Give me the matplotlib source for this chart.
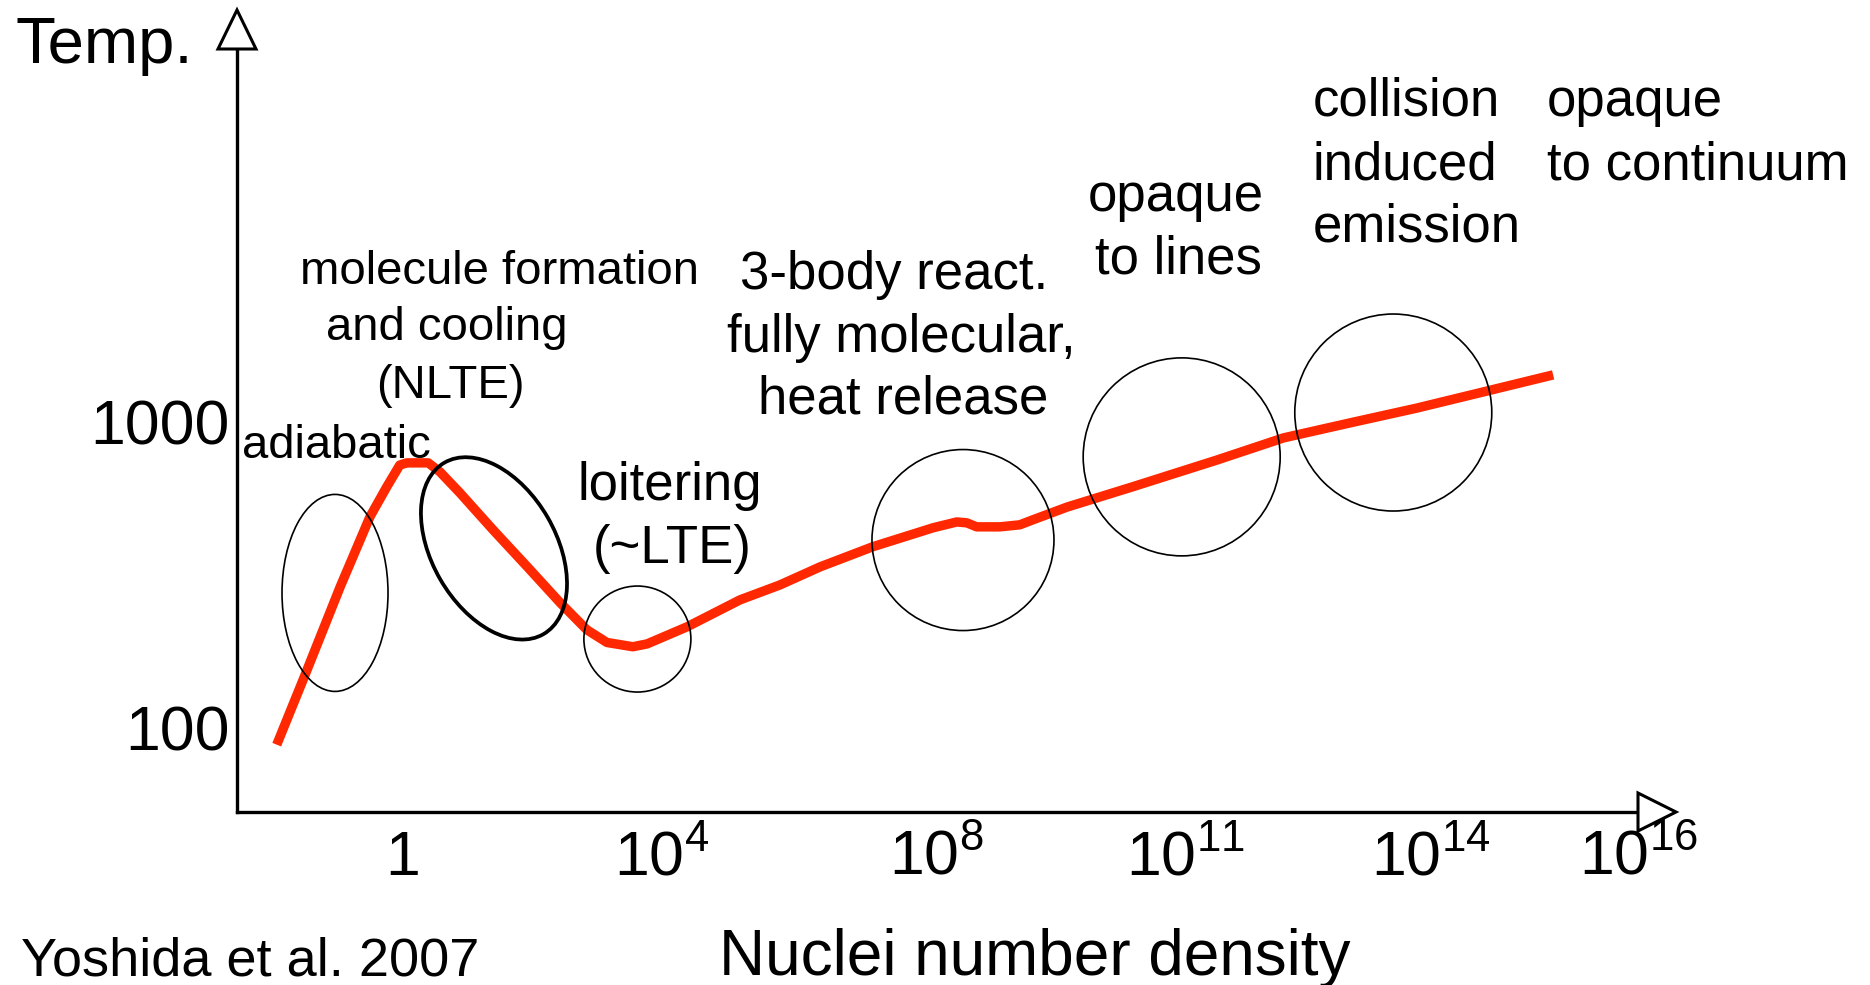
import numpy as np
import matplotlib
matplotlib.use("Agg")
import matplotlib.pyplot as plt
from matplotlib.patches import Ellipse, Polygon
from matplotlib.transforms import ScaledTranslation

plt.rcParams['font.family'] = ['Liberation Sans', 'DejaVu Sans']

# Temperaturverlauf (schematisch)
log_n = [-1.95, -1.54, -0.97, -0.51, -0.25, -0.05, 0.06, 0.39, 0.57, 0.88,
         1.39, 1.92, 2.43, 2.84, 3.15, 3.55, 3.77, 4.37, 5.14, 5.72,
         6.31, 7.08, 7.96, 8.25, 8.37, 8.49, 8.77, 9.01, 9.17, 9.58,
         10.37, 11.39, 12.20, 13.01, 13.83, 14.50, 15.18]
temp = [88, 144, 289, 490, 614, 723, 735, 735, 687, 586,
        444, 336, 256, 209, 190, 184, 188, 214, 262, 293,
        336, 391, 451, 471, 468, 454, 454, 461, 479, 527,
        614, 751, 887, 993, 1111, 1253, 1426]

tick_log_n = [0, 4, 8, 11, 14, 16]
tick_labels = ["1", r"$\mathregular{10^{4}}$", r"$\mathregular{10^{8}}$",
               r"$\mathregular{10^{11}}$", r"$\mathregular{10^{14}}$",
               r"$\mathregular{10^{16}}$"]
temp_ticks = [100, 1000]
temp_tick_labels = ["100", "1000"]

# markierte Bereiche (Mittelpunkte)
region_log_n = [-1.05, 1.405, 3.62, 8.325, 10.96, 13.54]
region_temp = [276, 386, 195, 411, 769, 1074]

# Layout in Pixel
W, H, DPI = 1870, 985, 100
tick_px = [403, 662, 936, 1185, 1431, 1638]
x0, x1, y_axis, y_top = 237, 1638, 812, 49
region_w = [106, 198, 107, 182, 197, 197]
region_h = [197, 124, 106, 181, 198, 197]
region_ang = [0, -60, 0, 0, 0, 0]
region_lw = [1.2, 2.7, 1.2, 1.2, 1.2, 1.2]


def to_pos(v):
    v = np.asarray(v, dtype=float)
    slope = (tick_px[1] - tick_px[0]) / (tick_log_n[1] - tick_log_n[0])
    return np.where(v < tick_log_n[0], tick_px[0] + (v - tick_log_n[0]) * slope,
                    np.interp(v, tick_log_n, tick_px))


def from_pos(p):
    p = np.asarray(p, dtype=float)
    slope = (tick_px[1] - tick_px[0]) / (tick_log_n[1] - tick_log_n[0])
    return np.where(p < tick_px[0], tick_log_n[0] + (p - tick_px[0]) / slope,
                    np.interp(p, tick_px, tick_log_n))


fig = plt.figure(figsize=(W / DPI, H / DPI), dpi=DPI)
ax = fig.add_axes([x0 / W, (H - y_axis) / H, (x1 - x0) / W, (y_axis - y_top) / H])
ax.set_xscale('function', functions=(to_pos, from_pos))
ax.set_yscale('log')
ax.set_xlim(float(from_pos(x0)), 16)
ax.set_ylim(53, 16600)

ax.plot(log_n, temp, color='#ff2800', lw=6.8, solid_joinstyle='round',
        solid_capstyle='butt', zorder=3)

for cx, cy, w, h, a, lw in zip(region_log_n, region_temp, region_w, region_h,
                               region_ang, region_lw):
    tr = fig.dpi_scale_trans + ScaledTranslation(cx, cy, ax.transData)
    ax.add_patch(Ellipse((0, 0), w / DPI, h / DPI, angle=a, transform=tr,
                         fill=False, edgecolor='black', lw=lw, zorder=4,
                         clip_on=False))

ax.set_xticks(tick_log_n)
ax.set_xticklabels(tick_labels)
ax.set_yticks(temp_ticks)
ax.set_yticklabels(temp_tick_labels)
ax.yaxis.set_minor_locator(matplotlib.ticker.NullLocator())
ax.xaxis.set_minor_locator(matplotlib.ticker.NullLocator())
ax.tick_params(axis='both', length=0, labelsize=45)
ax.tick_params(axis='x', pad=12)
ax.tick_params(axis='y', pad=5)

for s in ['top', 'right']:
    ax.spines[s].set_visible(False)
for s in ['left', 'bottom']:
    ax.spines[s].set_linewidth(2.4)

# Pfeilspitzen
arr_x = Polygon([(0, -0.19), (0.38, 0), (0, 0.19)], closed=True,
                transform=fig.dpi_scale_trans + ScaledTranslation(1, 0, ax.transAxes),
                facecolor='white', edgecolor='black', lw=2.2, clip_on=False, zorder=5)
arr_y = Polygon([(-0.19, 0), (0, 0.39), (0.19, 0)], closed=True,
                transform=fig.dpi_scale_trans + ScaledTranslation(0, 1, ax.transAxes),
                facecolor='white', edgecolor='black', lw=2.2, clip_on=False, zorder=5)
ax.add_patch(arr_x)
ax.add_patch(arr_y)

ax.set_xlabel("Nuclei number density", fontsize=46, va='baseline')
ax.xaxis.set_label_coords((1035 - x0) / (x1 - x0), (y_axis - 975) / (y_axis - y_top))
ax.set_ylabel("Temp.", fontsize=47, rotation=0, ha='left', va='baseline')
ax.yaxis.set_label_coords((15 - x0) / (x1 - x0), (y_axis - 63) / (y_axis - y_top))

fig.text(21 / W, 1 - 975 / H, "Yoshida et al. 2007", fontsize=39,
         ha='left', va='baseline')

# Beschriftungen: (Text, x, Grundlinie y, Ausrichtung, Groesse)
labels = [
    ("molecule formation", 500, 284, 'center', 34),
    ("and cooling", 447, 340, 'center', 34),
    ("(NLTE)", 450, 398, 'center', 34),
    ("adiabatic", 242, 458, 'left', 34),
    ("loitering", 670, 500, 'center', 38),
    ("(~LTE)", 672, 563, 'center', 38),
    ("3-body react.", 894, 289, 'center', 38),
    ("fully molecular,", 901, 352, 'center', 38),
    ("heat release", 903, 414, 'center', 38),
    ("opaque", 1176, 211, 'center', 38),
    ("to lines", 1178, 274, 'center', 38),
    ("collision", 1313, 116, 'left', 38),
    ("induced", 1313, 179, 'left', 38),
    ("emission", 1313, 242, 'left', 38),
    ("opaque", 1547, 116, 'left', 38),
    ("to continuum", 1547, 179, 'left', 38),
]
for s, x, y, ha, fs in labels:
    fig.text(x / W, 1 - y / H, s, fontsize=fs, ha=ha, va='baseline')

fig.savefig("out.png", dpi=DPI)
